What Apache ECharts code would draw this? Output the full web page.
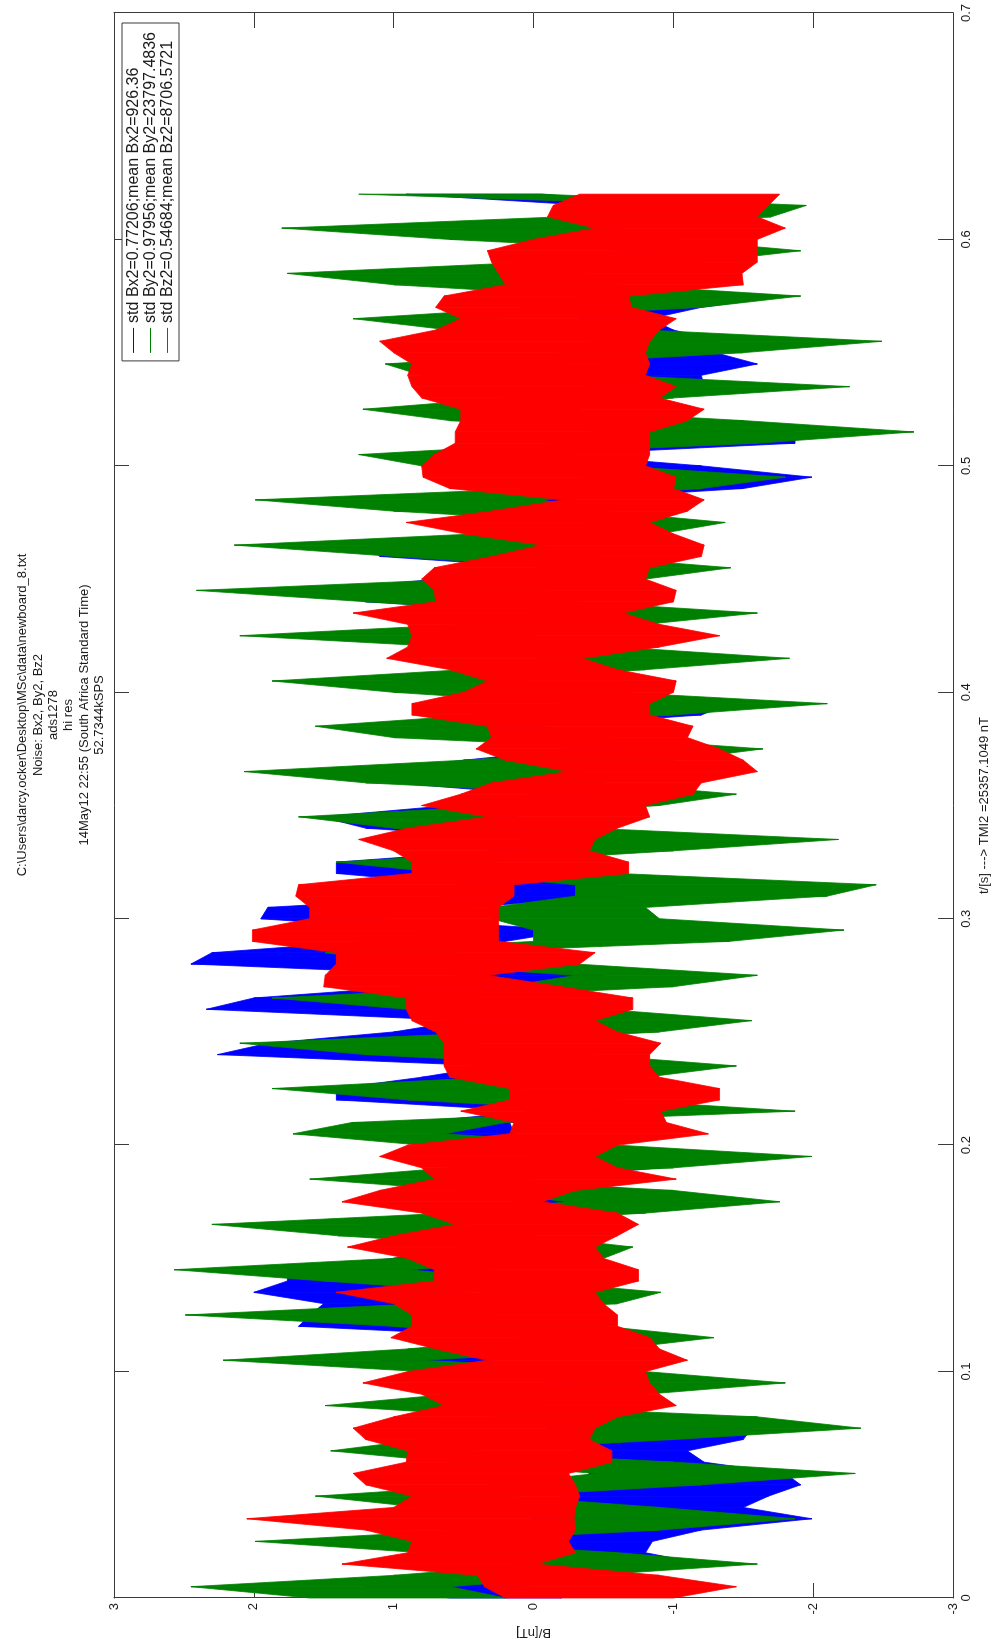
<!DOCTYPE html>
<html>
<head>
<meta charset="utf-8">
<title>Noise: Bx2, By2, Bz2</title>
<script src="https://cdn.jsdelivr.net/npm/echarts@6/dist/echarts.min.js"></script>
<style>
  html, body { margin: 0; padding: 0; background: #fff; overflow: hidden; }
  /* The figure is laid out landscape and turned a quarter turn counter-clockwise. */
  #chart {
    position: absolute; left: 0; top: 0;
    width: 1647px; height: 996px;
    transform-origin: 0 0;
    transform: translateY(1647px) rotate(-90deg);
    background: #fff;
  }
</style>
</head>
<body>
<div id="chart"></div>
<script>
// Sample spacing of the envelope readings, seconds
const tStep = 0.005;

// Envelope (upper / lower) of each channel in nT, one value per 5 ms from t = 0 to 0.62 s
const bx2Hi = [0.6, 1.2, 0.6, 0.1, 0.0, 0.8, 0.1, 0.0, 0.0, -0.2,
  -0.3, -0.4, -0.3, -0.3, -0.1, -0.1, 0.0, 0.8, 0.3, -0.14,
  0.5, 1.1, 0.6, 0.0, 1.68, 1.6, 1.5, 2.0, 1.76, 1.76,
  1.0, 0.5, 1.0, 1.22, 0.5, 0.14, 0.1, 0.8, 0.02, 0.02,
  0.4, 0.71, 0.87, 0.0, 1.41, 1.41, 0.8, 0.3, 2.26, 1.9,
  1.0, 0.5, 2.34, 2.0, 0.9, 0.5, 2.45, 2.3, 1.2, 0.8,
  1.95, 1.9, 0.52, 0.5, 1.41, 1.41, 0.3, 0.02, 1.2, 1.52,
  0.6, 0.0, 1.0, 1.1, 0.5, -0.3, 0.6, 0.8, -0.2, -0.21,
  0.3, 1.0, 0.5, -0.06, 0.4, 0.87, 0.3, -0.1, 1.2, 1.49,
  0.7, -0.1, 1.1, 1.18, 0.3, -0.6, 0.6, 0.8, -0.3, -0.75,
  -0.2, 0.5, -0.44, -0.44, 0.0, 0.6, -0.2, -0.37, -0.3, -0.5,
  -0.4, -0.41, -0.3, -0.33, -0.4, -0.64, 0.5, 0.33, -0.3, -0.6,
  0.0, 0.5, -0.2, -0.4, 0.91];
const bx2Lo = [-0.2, 0.1, -0.4, -1.22, -0.8, -0.85, -1.2, -1.99, -1.5, -1.68,
  -1.91, -1.8, -1.22, -1.1, -1.5, -1.56, -1.2, 0.0, -0.6, -0.79,
  -0.5, 0.33, -0.4, -0.9, 0.4, 0.3, 0.2, 0.5, 0.33, 0.33,
  0.0, -0.3, 0.2, 0.52, -0.6, -1.1, -0.8, 0.1, -0.91, -0.91,
  -0.4, 0.14, 0.17, -0.8, 0.33, 0.33, -0.2, -0.4, 0.6, 0.4,
  0.0, -0.3, 0.6, 0.5, -0.2, -0.5, 1.1, 0.9, 0.2, -0.3,
  1.1, 0.5, -0.64, -0.6, 0.56, 0.4, -0.5, -0.83, 0.1, 0.14,
  -0.3, -0.6, 0.0, -0.33, -0.5, -1.0, -0.3, -0.06, -1.2, -1.41,
  -0.6, 0.14, -0.5, -0.68, -0.3, 0.02, -0.5, -0.8, 0.2, 0.25,
  -0.3, -0.7, 0.0, -0.06, -0.6, -1.0, -0.3, -0.2, -1.5, -1.99,
  -1.2, -0.2, -1.87, -1.87, -0.8, -0.3, -0.9, -1.22, -1.2, -1.6,
  -1.3, -1.33, -1.0, -0.83, -1.2, -1.8, -0.5, -0.33, -0.9, -1.2,
  -0.7, -0.64, -0.9, -1.0, -0.06];

const by2Hi = [1.6, 2.45, 1.0, 0.0, 0.8, 1.99, 0.5, -0.25, 0.8, 1.56,
  0.3, -0.45, 0.6, 1.45, 0.8, -0.4, 0.2, 1.49, 0.6, -0.4,
  0.8, 2.22, 0.9, 0.02, 1.0, 2.49, 0.8, 0.33, 1.5, 2.57,
  1.0, 0.1, 1.4, 2.3, 0.6, -0.25, 0.5, 1.6, 0.6, -0.25,
  0.8, 1.72, 1.3, -0.6, 0.9, 1.87, 0.3, -0.44, 1.2, 2.1,
  0.2, 0.02, 0.9, 1.87, 0.2, -0.3, 0.9, 1.49, 0.0, 0.0,
  0.3, 0.3, -0.3, -0.3, 0.6, 1.41, 0.0, -0.06, 1.0, 1.68,
  0.2, -0.44, 1.2, 2.07, 0.5, -0.75, 1.0, 1.56, 0.4, -0.25,
  1.0, 1.87, 0.5, -0.06, 0.6, 2.1, 0.5, -0.06, 1.2, 2.41,
  0.5, -0.25, 1.0, 2.14, 0.4, -0.44, 1.0, 1.99, 0.0, -0.37,
  0.8, 1.25, -0.2, -0.75, 0.6, 1.22, 0.2, -0.83, 0.8, 1.06,
  -0.2, -0.83, 0.6, 1.29, 0.0, -0.37, 1.0, 1.76, 0.0, -1.02,
  0.6, 1.8, -0.2, -1.22, 1.25];
const by2Lo = [0.2, 0.6, -0.4, -1.6, -0.6, 0.7, -0.9, -1.87, -0.9, 0.2,
  -1.2, -2.3, -1.0, 0.5, -1.0, -2.34, -1.6, 0.25, -0.8, -1.8,
  -0.8, 0.79, -0.6, -1.29, -0.5, 0.87, -0.6, -0.91, 0.0, 0.9,
  -0.5, -0.71, 0.0, 0.56, -0.8, -1.76, -1.0, 0.5, -1.0, -1.99,
  -0.6, 0.64, 0.2, -1.87, -0.6, 0.14, -0.8, -1.45, -0.4, 0.56,
  -0.9, -1.56, -0.5, 0.64, -1.0, -1.6, -0.3, 0.64, -1.4, -2.22,
  -0.9, -0.8, -2.1, -2.45, -0.6, 0.33, -1.0, -2.18, -0.4, 0.33,
  -0.9, -1.45, -0.5, -0.33, -1.0, -1.64, -0.5, 0.33, -1.0, -2.1,
  -0.6, 0.33, -0.8, -1.83, -0.6, 0.25, -0.8, -1.6, -0.3, -0.06,
  -0.8, -1.41, -0.4, -0.06, -0.9, -1.37, -0.5, -0.06, -1.2, -1.8,
  -0.6, 0.25, -1.6, -2.72, -1.5, -0.06, -1.0, -2.26, -0.6, -0.06,
  -1.5, -2.49, -0.8, 0.33, -1.2, -1.91, -0.6, -0.33, -1.2, -1.91,
  -1.0, -0.44, -1.7, -1.95, -0.06];

const bz2Hi = [0.2, 0.35, 0.4, 1.37, 0.9, 0.87, 1.2, 2.05, 1.0, 0.87,
  1.2, 1.29, 0.91, 0.9, 1.2, 1.29, 1.0, 0.64, 0.8, 1.22,
  0.9, 0.33, 0.7, 1.02, 0.87, 0.87, 1.0, 1.41, 0.71, 0.71,
  0.9, 1.33, 1.0, 0.56, 0.8, 1.37, 1.1, 0.71, 0.8, 1.1,
  0.9, 0.17, 0.14, 0.52, 0.17, 0.17, 0.6, 0.64, 0.64, 0.64,
  0.7, 0.87, 0.91, 0.91, 1.5, 1.49, 1.41, 1.41, 2.01, 2.01,
  1.6, 1.6, 1.7, 1.68, 0.87, 0.87, 1.0, 1.25, 0.9, 0.33,
  0.8, 0.52, 0.3, -0.25, 0.2, 0.41, 0.3, 0.33, 0.87, 0.87,
  0.5, 0.33, 0.6, 1.05, 0.9, 0.87, 0.9, 1.29, 0.7, 0.71,
  0.8, 0.71, 0.3, -0.06, 0.5, 0.91, 0.3, -0.21, 0.6, 0.79,
  0.8, 0.71, 0.56, 0.56, 0.52, 0.52, 0.8, 0.87, 0.9, 0.87,
  1.0, 1.1, 0.7, 0.52, 0.7, 0.64, 0.2, 0.25, 0.3, 0.33,
  0.0, -0.44, -0.1, -0.14, -0.33];
const bz2Lo = [-1.0, -1.45, -0.9, -0.02, -0.3, -0.25, -0.3, -0.29, -0.3, -0.33,
  -0.3, -0.25, -0.56, -0.56, -0.4, -0.44, -0.6, -1.02, -0.9, -0.83,
  -0.8, -1.1, -0.9, -0.83, -0.6, -0.6, -0.5, -0.44, -0.75, -0.75,
  -0.5, -0.44, -0.6, -0.75, -0.6, -0.06, -0.3, -1.02, -0.6, -0.44,
  -0.6, -1.25, -0.95, -0.91, -1.33, -1.33, -0.9, -0.83, -0.83, -0.91,
  -0.6, -0.44, -0.71, -0.71, -0.2, 0.33, -0.33, -0.44, 0.25, 0.25,
  0.25, 0.25, 0.14, 0.14, -0.68, -0.68, -0.4, -0.44, -0.6, -0.83,
  -0.8, -1.14, -1.2, -1.6, -1.5, -1.33, -1.1, -1.14, -0.83, -0.83,
  -1.0, -1.02, -0.6, -0.35, -0.9, -1.33, -0.9, -0.64, -1.0, -1.02,
  -0.8, -0.83, -1.2, -1.22, -1.0, -0.83, -1.1, -1.22, -1.0, -1.02,
  -0.8, -0.83, -0.83, -0.83, -1.1, -1.22, -0.9, -1.02, -0.8, -0.83,
  -0.8, -0.83, -0.9, -1.02, -0.7, -0.68, -1.5, -1.49, -1.6, -1.6,
  -1.6, -1.8, -1.6, -1.68, -1.76];

// Legend entries (statistics per channel)
const seriesNames = [
  'std Bx2=0.77206;mean Bx2=926.36',
  'std By2=0.97956;mean By2=23797.4836',
  'std Bz2=0.54684;mean Bz2=8706.5721'
];
const seriesColors = ['#0000ff', '#008000', '#ff0000'];

// Axis ticks
const timeTicks = { min: 0, max: 0.7, interval: 0.1 };
const fieldTicks = { min: -3, max: 3, interval: 1 };

const titleLines = [
  'C:\\Users\\darcy.ocker\\Desktop\\MSc\\data\\newboard_8.txt',
  'Noise: Bx2, By2, Bz2',
  'ads1278',
  'hi res',
  '14May12 22:55 (South Africa Standard Time)',
  '52.7344kSPS'
];
const xLabel = 't/[s] ---> TMI2 =25357.1049 nT';
const yLabel = 'B/[nT]';

const FONT = '"Liberation Sans", Arial, Helvetica, sans-serif';
const INK = '#1a1a1a';
const FRAME = '#3a3a3a';

const times = bx2Hi.map((_, i) => +(i * tStep).toFixed(4));

// Each data item is one 5 ms slice of the band: [t0, hi0, lo0, t1, hi1, lo1]
function bandData(hi, lo) {
  const out = [];
  for (let i = 0; i < times.length - 1; i++) {
    out.push([times[i], hi[i], lo[i], times[i + 1], hi[i + 1], lo[i + 1]]);
  }
  return out;
}

function bandSeries(name, color, hi, lo) {
  return {
    type: 'custom',
    name: name,
    xAxisIndex: 0,
    yAxisIndex: 0,
    itemStyle: { color: color },
    encode: { x: [0, 3], y: [1, 2, 4, 5] },
    data: bandData(hi, lo),
    silent: true,
    renderItem: function (params, api) {
      const a = api.coord([api.value(0), api.value(1)]);
      const b = api.coord([api.value(3), api.value(4)]);
      const c = api.coord([api.value(3), api.value(5)]);
      const d = api.coord([api.value(0), api.value(2)]);
      return {
        type: 'polygon',
        shape: { points: [a, b, c, d] },
        style: { fill: color, stroke: color, lineWidth: 0.8 }
      };
    }
  };
}

function frameAxis(extra) {
  return Object.assign({
    type: 'value',
    axisLine: { show: true, onZero: false, lineStyle: { color: FRAME, width: 1 } },
    axisTick: { show: true, inside: true, length: 15, lineStyle: { color: FRAME, width: 1 } },
    splitLine: { show: false },
    axisLabel: { show: false }
  }, extra);
}

const chart = echarts.init(document.getElementById('chart'), null, { width: 1647, height: 996 });

chart.setOption({
  animation: false,
  backgroundColor: '#ffffff',
  textStyle: { fontFamily: FONT },
  title: {
    text: titleLines.join('\n'),
    left: 927,
    top: 10,
    textAlign: 'center',
    textStyle: { fontFamily: FONT, fontSize: 13, fontWeight: 'normal', color: INK, lineHeight: 15.4 }
  },
  legend: {
    orient: 'vertical',
    right: 23,
    top: 122,
    padding: [3, 9, 3, 8],
    itemGap: 0,
    itemWidth: 25,
    itemHeight: 1,
    icon: 'rect',
    backgroundColor: '#ffffff',
    borderColor: FRAME,
    borderWidth: 1,
    selectedMode: false,
    data: seriesNames,
    textStyle: { fontFamily: FONT, fontSize: 16, color: INK, lineHeight: 17 }
  },
  grid: { left: 46, top: 114, width: 1588, height: 842, containLabel: false },
  xAxis: [
    frameAxis({
      position: 'bottom',
      min: timeTicks.min, max: timeTicks.max, interval: timeTicks.interval,
      axisLabel: { show: true, fontFamily: FONT, fontSize: 13, color: INK, margin: 7,
                   showMinLabel: true, showMaxLabel: true },
      name: xLabel,
      nameLocation: 'middle',
      nameGap: 24,
      nameTextStyle: { fontFamily: FONT, fontSize: 13, color: INK }
    }),
    frameAxis({ position: 'top', min: timeTicks.min, max: timeTicks.max, interval: timeTicks.interval })
  ],
  yAxis: [
    frameAxis({
      position: 'left',
      min: fieldTicks.min, max: fieldTicks.max, interval: fieldTicks.interval,
      axisLabel: { show: true, fontFamily: FONT, fontSize: 13, color: INK, margin: 5,
                   showMinLabel: true, showMaxLabel: true },
      name: yLabel,
      nameLocation: 'middle',
      nameRotate: 90,
      nameGap: 28,
      nameTextStyle: { fontFamily: FONT, fontSize: 13, color: INK }
    }),
    frameAxis({ position: 'right', min: fieldTicks.min, max: fieldTicks.max, interval: fieldTicks.interval })
  ],
  series: [
    bandSeries(seriesNames[0], seriesColors[0], bx2Hi, bx2Lo),
    bandSeries(seriesNames[1], seriesColors[1], by2Hi, by2Lo),
    bandSeries(seriesNames[2], seriesColors[2], bz2Hi, bz2Lo)
  ]
});
</script>
</body>
</html>
